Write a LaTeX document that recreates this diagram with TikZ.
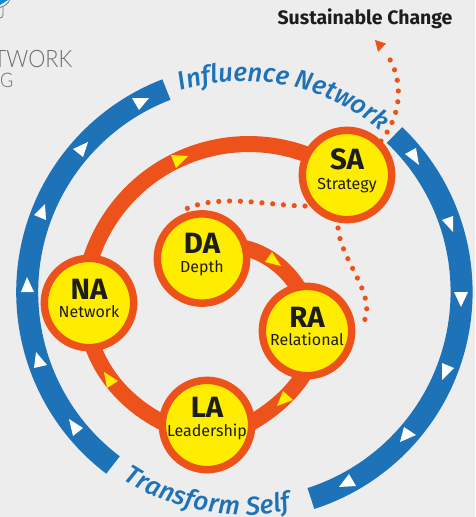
\documentclass[tikz,border=0pt]{standalone}
\usepackage{fontspec}
\setmainfont{Fira Sans}
\newfontfamily\thinfont{Lato Light}[FakeStretch=0.9]
\newfontfamily\ringfont{Fira Sans Medium}[ItalicFont=Fira Sans Medium Italic]
\usetikzlibrary{decorations.text}
\definecolor{bgc}{HTML}{EDEDED}
\definecolor{ringblue}{HTML}{1E72B8}
\definecolor{ringorange}{HTML}{EE521B}
\definecolor{disc}{HTML}{FFED00}
\definecolor{ink}{HTML}{1D1D1B}
\tikzset{
  x=0.75pt,y=-0.75pt,
  hub/.style={circle,draw=ringorange,line width=5.6pt,fill=disc,minimum size=67pt,inner sep=0pt,text=ink,font=\fontsize{12pt}{13pt}\selectfont},
  bluering/.style={draw=ringblue,line width=16.5pt},
  orangelink/.style={draw=ringorange,line width=12pt},
  dots/.style={draw=ringorange,line width=3.9pt,line cap=round,dash pattern=on 0pt off 8.1pt},
  whitemark/.style={fill=white},
  yellowmark/.style={fill=disc},
}
\newcommand{\hubtext}[4]{\smash{\makebox[0pt]{\raisebox{#3}{\fontsize{22pt}{22pt}\selectfont\bfseries #1}}}\smash{\makebox[0pt]{\raisebox{#4}{#2}}}}
\begin{document}
\begin{tikzpicture}
\useasboundingbox (0,0) rectangle (475,517);
\fill[bgc] (0,0) rectangle (475,517);
\begin{scope}
\clip (0,0) rectangle (475,517);
\node[anchor=east,inner sep=0pt,text=ink!65,font=\fontsize{18pt}{18pt}\thinfont] (brandA) at (72.5,59) {TWORK};
\node[anchor=east,inner sep=0pt,text=ink!65,font=\fontsize{15pt}{15pt}\thinfont] (brandB) at (13.5,80.5) {NG};
\fill[cyan!70!blue] (0,0) -- (8,0) -- (0,5) -- cycle;
\draw[ink!60,line width=0.6pt] (9.5,0) .. controls (9,3) and (5,6) .. (0,7.5);
\draw[ink!60,line width=0.6pt] (3,7) -- (3,15) .. controls (3,17) and (1.5,18) .. (0,18);
\end{scope}
% blue rings
\path[bluering] (113,465) arc[start angle=232.8,end angle=111,radius=217*0.75pt];
\path[bluering] (394.5,135) arc[start angle=46.3,end angle=-72.2,radius=217*0.75pt];
% ring labels
\path[decorate,decoration={text along path,text align={fit to path},text={|\fontsize{19.5pt}{18pt}\ringfont\itshape\color{ringblue}|Influence Network}}]
 (181,91) arc[start angle=107.5,end angle=50,radius=211*0.75pt];
\path[decorate,decoration={text along path,text align={fit to path},text={|\fontsize{19.5pt}{18pt}\ringfont\itshape\color{ringblue}|Transform Self}}]
 (123,479) arc[start angle=237,end angle=282,radius=223*0.75pt];
% links
\coordinate (SAc) at (347,175);
\coordinate (NAc) at (89,303);
\coordinate (LAc) at (207,425);
\coordinate (RAc) at (307,331);
\coordinate (DAc) at (202,258.5);
\coordinate (SAin) at (329.9,165.3);
\coordinate (NAin) at (87,325);
\coordinate (LAin) at (185,432);
\coordinate (LAout) at (235,432);
\coordinate (RAin) at (312,360);
\coordinate (RAup) at (305,300);
\coordinate (DAin) at (232,246);
\draw[orangelink] (SAin) arc[start angle=60.7,end angle=183.5,radius=166*0.75pt];
\draw[orangelink] (NAin) .. controls (95,370) and (128,412) .. (LAin);
\draw[orangelink] (LAout) .. controls (262,417) and (292,400) .. (RAin);
\draw[orangelink] (RAup) .. controls (290,268) and (262,248) .. (DAin);
% dotted
\coordinate (d1a) at (381,141);
\coordinate (d1b) at (385,52);
\draw[dots] (d1a) .. controls (405,110) and (402,74) .. (d1b);
\coordinate (d2a) at (305,206);
\coordinate (d2b) at (182,211);
\draw[dots] (d2a) .. controls (270,206) and (216,192) .. (d2b);
\coordinate (d3a) at (338,228);
\coordinate (d3b) at (362,325);
\draw[dots] (d3a) .. controls (341,262) and (380,298) .. (d3b);
\fill[ringorange] (375,40) -- (386,43.5) -- (378,52) -- cycle;
\node[hub] (SA) at (SAc) {\hubtext{SA}{Strategy}{4.5pt}{-10.5pt}};
\node[hub] (NA) at (NAc) {\hubtext{NA}{Network}{3pt}{-10.5pt}};
\node[hub] (LA) at (LAc) {\hubtext{LA}{Leadership}{6pt}{-8.3pt}};
\node[hub] (RA) at (RAc) {\hubtext{RA}{Relational}{3pt}{-11pt}};
\node[hub] (DA) at (DAc) {\hubtext{DA}{Depth}{4pt}{-10.8pt}};
\node[font=\fontsize{14.6pt}{15pt}\selectfont\bfseries,text=ink,inner sep=0pt] (goal) at (365,18.5) {Sustainable Change};
% white marks
\foreach \p/\q/\r in {{132,98}/{149,98}/{139,110},{73,149}/{88,142}/{83,157},{34,215}/{45,204}/{46,220},{21,292}/{27,277}/{34,292},{34,368}/{36,352}/{47,365},{69,419}/{83,428}/{73,436},{405,154}/{416,148}/{419,165},{442,220}/{453,216}/{453,232},{454,292}/{468,292}/{461,307},{442,363}/{454,368}/{442,380},{404,427}/{416,435}/{400,442},{349,474}/{356,486}/{339,487}}
  \fill[whitemark] (\p) -- (\q) -- (\r) -- cycle;
\foreach \p/\q/\r in {{171,155}/{188,156}/{176,168},{104,372}/{118,381}/{107,388},{283,391}/{293,400}/{277,406},{272,252}/{281,266}/{265,262}}
  \fill[yellowmark] (\p) -- (\q) -- (\r) -- cycle;
\end{tikzpicture}
\end{document}
